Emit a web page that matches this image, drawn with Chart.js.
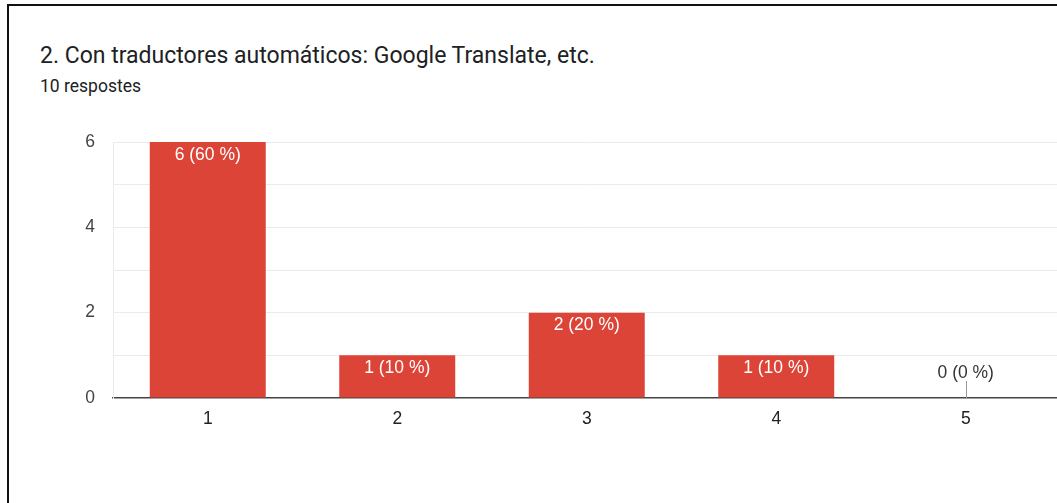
<!DOCTYPE html>
<html lang="ca">
<head>
  <meta charset="UTF-8" />
  <title>Con traductores automáticos</title>
  <script src="https://cdn.jsdelivr.net/npm/chart.js"></script>
  <style>
    * { box-sizing: border-box; }
    html, body {
      margin: 0;
      padding: 0;
      width: 1057px;
      height: 503px;
      overflow: hidden;
      background: #fff;
    }
    .frame {
      position: absolute;
      left: 7px;
      top: 4px;
      width: 1100px;
      height: 600px;
      border-top: 2px solid #111;
      border-left: 2px solid #111;
    }
    .title {
      position: absolute;
      left: 40px;
      top: 42px;
      font-family: Roboto, Arial, sans-serif;
      font-size: 23px;
      color: #202124;
      white-space: nowrap;
    }
    .subtitle {
      position: absolute;
      left: 40px;
      top: 76px;
      font-family: Roboto, Arial, sans-serif;
      font-size: 17.5px;
      color: #202124;
    }
    #chart-box {
      position: absolute;
      left: 0;
      top: 0;
      width: 1075px;
      height: 503px;
    }
  </style>
</head>
<body>
  <div class="frame"></div>
  <div class="title">2. Con traductores automáticos: Google Translate, etc.</div>
  <div class="subtitle">10 respostes</div>
  <div id="chart-box"><canvas id="chart"></canvas></div>

  <script>
    const categories = ['1', '2', '3', '4', '5'];
    const counts = [6, 1, 2, 1, 0];
    const totalAnswers = 10;
    const yTicks = [0, 2, 4, 6];

    const fontFamily = 'Arial, "Liberation Sans", sans-serif';
    const labelFont = '17.5px ' + fontFamily;

    // "n (p %)" label on each bar; empty bars get a small stem and a dark label
    const barLabels = {
      id: 'barLabels',
      afterDatasetsDraw(chart) {
        const ctx = chart.ctx;
        const meta = chart.getDatasetMeta(0);
        const data = chart.data.datasets[0].data;
        ctx.save();
        ctx.font = labelFont;
        ctx.textAlign = 'center';
        ctx.textBaseline = 'middle';
        meta.data.forEach((bar, i) => {
          const v = data[i];
          const text = v + ' (' + Math.round(v / totalAnswers * 100) + ' %)';
          if (v > 0) {
            ctx.fillStyle = '#ffffff';
            ctx.fillText(text, bar.x, bar.y + 13);
          } else {
            ctx.strokeStyle = '#999999';
            ctx.lineWidth = 1;
            ctx.beginPath();
            ctx.moveTo(Math.round(bar.x) + 0.5, bar.y);
            ctx.lineTo(Math.round(bar.x) + 0.5, bar.y - 17);
            ctx.stroke();
            ctx.fillStyle = '#333333';
            ctx.fillText(text, bar.x, bar.y - 25);
          }
        });
        ctx.restore();
      }
    };

    new Chart(document.getElementById('chart'), {
      type: 'bar',
      data: {
        labels: categories,
        datasets: [{
          data: counts,
          backgroundColor: '#dc4437',
          borderWidth: 0,
          categoryPercentage: 1,
          barPercentage: 0.612
        }]
      },
      options: {
        responsive: true,
        maintainAspectRatio: false,
        animation: false,
        layout: { padding: { top: 142, left: 53, right: 14.5, bottom: 65 } },
        plugins: {
          legend: { display: false },
          tooltip: { enabled: false }
        },
        scales: {
          x: {
            grid: { display: false, drawTicks: false },
            border: { color: '#444444', width: 1.5 },
            ticks: {
              color: '#222222',
              padding: 11,
              font: { family: fontFamily, size: 17.5 }
            },
            afterFit(scale) { scale.height = 40; }
          },
          y: {
            min: 0,
            max: 6,
            afterBuildTicks(scale) {
              scale.ticks = [0, 1, 2, 3, 4, 5, 6].map(v => ({ value: v }));
            },
            ticks: {
              color: '#444444',
              padding: 18,
              font: { family: fontFamily, size: 17.5 },
              callback: v => yTicks.includes(v) ? String(v) : ''
            },
            grid: {
              drawTicks: false,
              color: ctx => ctx.tick && ctx.tick.value === 0 ? 'rgba(0,0,0,0)' : '#ebebeb'
            },
            border: { color: '#ebebeb' },
            afterFit(scale) { scale.width = 60; }
          }
        }
      },
      plugins: [barLabels]
    });
  </script>
</body>
</html>
